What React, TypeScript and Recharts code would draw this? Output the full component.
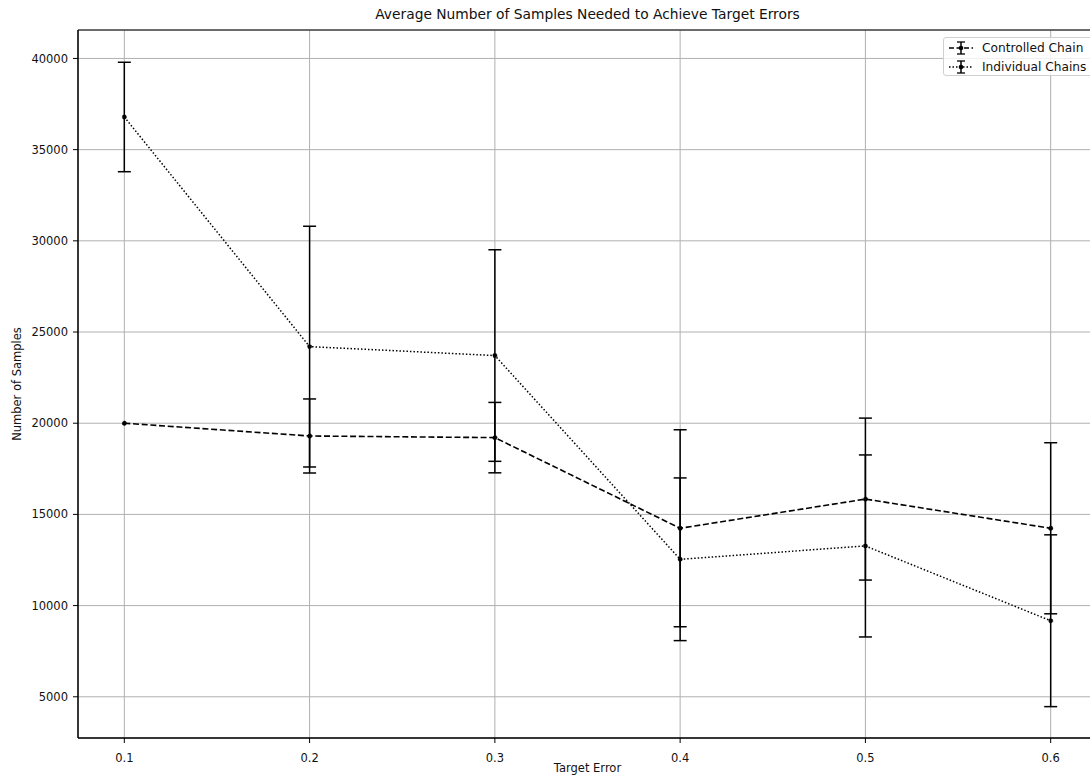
import React from 'react'
import { LineChart, Line, XAxis, YAxis, CartesianGrid, ErrorBar, ReferenceArea } from 'recharts'

const targetErrors = [0.1, 0.2, 0.3, 0.4, 0.5, 0.6]
const controlledMean = [20000, 19300, 19210, 14240, 15840, 14240]
const controlledErr = [0, 2030, 1930, 5400, 4440, 4690]
const individualMean = [36790, 24200, 23710, 12540, 13270, 9170]
const individualErr = [3000, 6600, 5800, 4460, 4990, 4710]

const xTicks = [0.1, 0.2, 0.3, 0.4, 0.5, 0.6]
const yTicks = [5000, 10000, 15000, 20000, 25000, 30000, 35000, 40000]

const X_DOMAIN = [0.075, 0.625]
const Y_DOMAIN = [2740, 41560]

const FONT = '"DejaVu Sans", sans-serif'

const data = targetErrors.map((x, i) => ({
  x,
  controlled: controlledMean[i],
  controlledErr: controlledErr[i],
  individual: individualMean[i],
  individualErr: individualErr[i],
}))

const LegendIcon = ({ dash }: { dash: string }) => (
  <svg width={26} height={16} style={{ display: 'block' }}>
    <line x1={1} y1={8} x2={25} y2={8} stroke="#000" strokeWidth={1.5} strokeDasharray={dash} />
    <line x1={13} y1={2} x2={13} y2={14} stroke="#000" strokeWidth={1.5} />
    <line x1={9} y1={2} x2={17} y2={2} stroke="#000" strokeWidth={1.3} />
    <line x1={9} y1={14} x2={17} y2={14} stroke="#000" strokeWidth={1.3} />
    <circle cx={13} cy={8} r={2.3} fill="#000" />
  </svg>
)

const legendItems = [
  { name: 'Controlled Chain', dash: '5 2.5' },
  { name: 'Individual Chains', dash: '1.5 2' },
]

export default function App() {
  return (
    <div
      style={{
        position: 'absolute',
        left: 0,
        top: 0,
        width: 1090,
        height: 776,
        overflow: 'hidden',
        background: '#fff',
        fontFamily: FONT,
      }}
    >
      <div
        style={{
          position: 'absolute',
          left: 0,
          top: 6,
          width: 1175,
          textAlign: 'center',
          fontSize: 13.8,
          lineHeight: '16px',
          color: '#111',
        }}
      >
        Average Number of Samples Needed to Achieve Target Errors
      </div>

      <LineChart width={1110} height={776} data={data} margin={{ top: 30, right: 13, left: 0, bottom: 0 }}>
        <CartesianGrid stroke="#b0b0b0" strokeWidth={1} />
        <XAxis
          dataKey="x"
          type="number"
          domain={X_DOMAIN}
          ticks={xTicks}
          allowDataOverflow
          height={38}
          tickFormatter={(v: number) => v.toFixed(1)}
          tick={{ fontSize: 11.5, fill: '#111', fontFamily: FONT }}
          tickLine={{ stroke: '#000' }}
          axisLine={{ stroke: '#000', strokeWidth: 1 }}
          tickSize={5}
          tickMargin={11}
          label={{ value: 'Target Error', position: 'insideBottom', offset: 4, fontSize: 11.5, fill: '#111', fontFamily: FONT }}
        />
        <YAxis
          type="number"
          domain={Y_DOMAIN}
          ticks={yTicks}
          allowDataOverflow
          width={78}
          tick={{ fontSize: 11.5, fill: '#111', fontFamily: FONT }}
          tickLine={{ stroke: '#000' }}
          axisLine={{ stroke: '#000', strokeWidth: 1 }}
          tickSize={5}
          tickMargin={5}
          label={({ viewBox }: any) => {
            const cx = 17
            const cy = viewBox.y + viewBox.height / 2
            return (
              <text
                x={cx}
                y={cy}
                transform={`rotate(-90 ${cx} ${cy})`}
                textAnchor="middle"
                dominantBaseline="central"
                fontSize={11.5}
                fill="#111"
                fontFamily={FONT}
              >
                Number of Samples
              </text>
            )
          }}
        />
        <ReferenceArea
          x1={X_DOMAIN[0]}
          x2={X_DOMAIN[1]}
          y1={Y_DOMAIN[0]}
          y2={Y_DOMAIN[1]}
          fill="none"
          stroke="#000"
          strokeWidth={1}
          ifOverflow="visible"
        />
        <Line
          dataKey="controlled"
          type="linear"
          stroke="#000"
          strokeWidth={1.6}
          strokeDasharray="6 2.7"
          dot={{ r: 2.2, fill: '#000', stroke: '#000', strokeWidth: 0.5 }}
          activeDot={false}
          isAnimationActive={false}
        >
          <ErrorBar dataKey="controlledErr" direction="y" width={6.5} stroke="#000" strokeWidth={1.5} isAnimationActive={false} />
        </Line>
        <Line
          dataKey="individual"
          type="linear"
          stroke="#000"
          strokeWidth={1.5}
          strokeDasharray="1.5 2"
          dot={{ r: 2.2, fill: '#000', stroke: '#000', strokeWidth: 0.5 }}
          activeDot={false}
          isAnimationActive={false}
        >
          <ErrorBar dataKey="individualErr" direction="y" width={6.5} stroke="#000" strokeWidth={1.5} isAnimationActive={false} />
        </Line>
      </LineChart>

      <div
        style={{
          position: 'absolute',
          left: 943,
          top: 37,
          width: 160,
          height: 39,
          border: '1px solid #d0d0d0',
          borderRadius: 3,
          background: 'rgba(255,255,255,0.8)',
          boxSizing: 'border-box',
          paddingTop: 0,
        }}
      >
        {legendItems.map((item) => (
          <div key={item.name} style={{ display: 'flex', alignItems: 'center', height: 19, paddingLeft: 4 }}>
            <LegendIcon dash={item.dash} />
            <span style={{ marginLeft: 8, fontSize: 12.2, color: '#111', whiteSpace: 'nowrap' }}>{item.name}</span>
          </div>
        ))}
      </div>
    </div>
  )
}
